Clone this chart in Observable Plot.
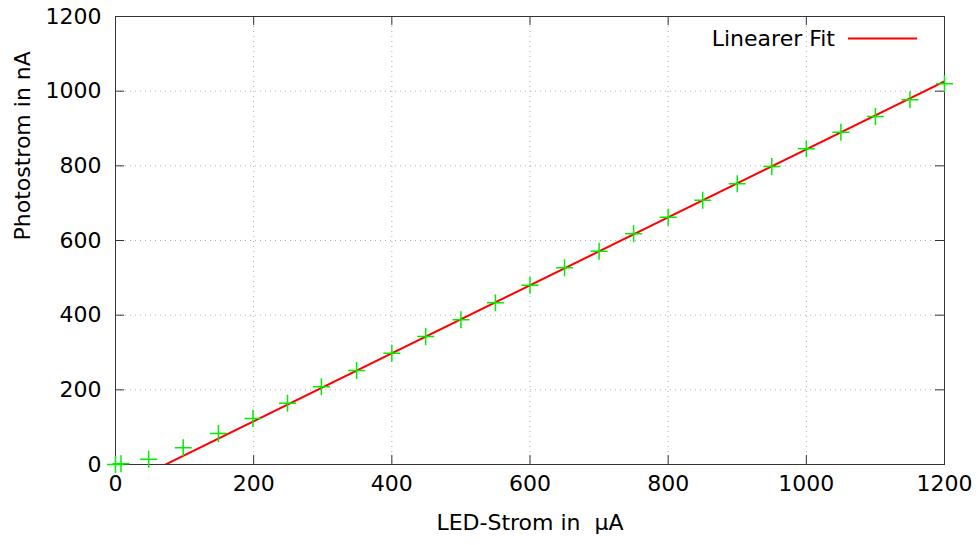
<!DOCTYPE html>
<html>
<head>
<meta charset="utf-8">
<script src="https://cdn.jsdelivr.net/npm/d3@7"></script>
<script src="https://cdn.jsdelivr.net/npm/@observablehq/plot@0.6"></script>
<style>
  body { margin: 0; background: #fff; }
  #wrap { position: relative; width: 979px; height: 545px; font-family: "DejaVu Sans", sans-serif; }
  #legend { position: absolute; left: 0; top: 0; width: 979px; height: 545px; font-size: 22px; pointer-events: none; }
  #legend .lbl { position: absolute; right: 144px; top: 26px; white-space: nowrap; line-height: 26px; color: #000; }
</style>
</head>
<body>
<div id="wrap"></div>
<script>
// Measured data (LED current in µA vs photocurrent in nA)
const ledCurrent = [0, 8, 48, 98, 149, 199, 249, 298, 349, 400, 449, 500, 550, 600, 650, 700, 750, 800, 850, 900, 950, 1000, 1050, 1100, 1150, 1200];
const photoCurrent = [0, 2, 14, 45, 83, 123, 164, 208, 252, 298, 343, 388, 433, 480, 527, 571, 618, 662, 708, 752, 798, 846, 890, 932, 977, 1020];
// Linear fit parameters (photo = slope * led + intercept)
const fitSlope = 0.91;
const fitIntercept = -66;
const xTicks = [0, 200, 400, 600, 800, 1000, 1200];
const yTicks = [0, 200, 400, 600, 800, 1000, 1200];
const xDomain = [0, 1200];
const yDomain = [0, 1200];
const xLabel = "LED-Strom in \u00a0\u00b5A";
const yLabel = "Photostrom in nA";
const legendLabel = "Linearer Fit";

const points = ledCurrent.map((x, i) => ({x, y: photoCurrent[i]}));
const fitLine = xDomain.map(x => ({x, y: fitSlope * x + fitIntercept}));

const W = 979, H = 545, mL = 115, mR = 35, mT = 16, mB = 81;
const innerW = W - mL - mR, innerH = H - mT - mB;
const tick = 9;

const plusSymbol = {
  draw(ctx, size) {
    const r = Math.sqrt(size / Math.PI);
    ctx.moveTo(-r, 0); ctx.lineTo(r, 0);
    ctx.moveTo(0, -r); ctx.lineTo(0, r);
  }
};

const chart = Plot.plot({
  width: W, height: H,
  marginLeft: mL, marginRight: mR, marginTop: mT, marginBottom: mB,
  style: {fontFamily: "DejaVu Sans", fontSize: "22px", background: "#fff", color: "#000"},
  x: {domain: xDomain, ticks: xTicks, tickSize: 0, tickPadding: 11, tickFormat: d => String(d), label: null},
  y: {domain: yDomain, ticks: yTicks, tickSize: 0, tickPadding: 14, tickFormat: d => String(d), label: null},
  marks: [
    Plot.ruleX(xTicks, {x: d => d, stroke: "#b0b0b0", strokeDasharray: "1,4", strokeWidth: 1}),
    Plot.ruleY(yTicks, {y: d => d, stroke: "#b0b0b0", strokeDasharray: "1,4", strokeWidth: 1}),
    Plot.tickX(xTicks, {x: d => d, insetTop: innerH - tick, stroke: "#333"}),
    Plot.tickX(xTicks, {x: d => d, insetBottom: innerH - tick, stroke: "#333"}),
    Plot.tickY(yTicks, {y: d => d, insetRight: innerW - tick, stroke: "#333"}),
    Plot.tickY(yTicks, {y: d => d, insetLeft: innerW - tick, stroke: "#333"}),
    Plot.frame({stroke: "#333", strokeWidth: 1}),
    Plot.line(fitLine, {x: "x", y: "y", stroke: "#ff0000", strokeWidth: 2, clip: true}),
    Plot.dot(points, {x: "x", y: "y", symbol: plusSymbol, r: 8.5, stroke: "#00ee00", strokeWidth: 1.5, fill: "none"}),
    Plot.text([xLabel], {text: d => d, frameAnchor: "bottom", dy: 65}),
    Plot.text([yLabel], {text: d => d, frameAnchor: "left", rotate: -90, dx: -93})
  ]
});

const wrap = document.getElementById("wrap");
wrap.appendChild(chart);

const legend = document.createElement("div");
legend.id = "legend";
legend.innerHTML = `<span class="lbl"></span><svg width="979" height="545" style="position:absolute;left:0;top:0"><line x1="848" y1="38.5" x2="917" y2="38.5" stroke="#ff0000" stroke-width="2"/></svg>`;
legend.querySelector(".lbl").textContent = legendLabel;
wrap.appendChild(legend);
</script>
</body>
</html>
